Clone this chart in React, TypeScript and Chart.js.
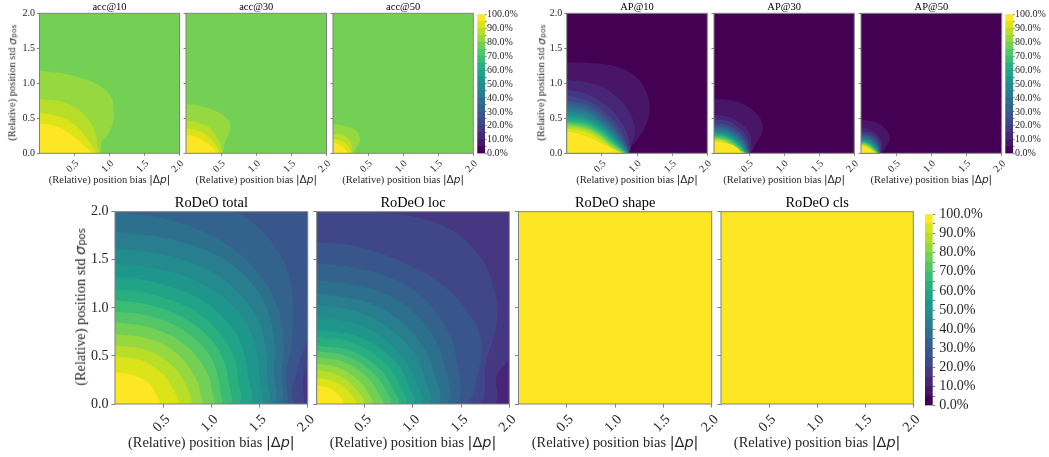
import React, { useEffect, useRef } from "react";
import { Chart, registerables } from "chart.js";

Chart.register(...registerables);

type Curve = [number, number[][]];

const LEVEL_COLORS = ["#440154","#481567","#482677","#453781","#404788","#39568C","#33638D","#2D708E","#287D8E","#238A8D","#1F968B","#20A387","#29AF7F","#3CBB75","#55C667","#73D055","#95D840","#B8DE29","#DCE319","#FDE725"];
const X_TICKS = [0.5, 1.0, 1.5, 2.0];
const Y_TICKS = [0, 0.5, 1.0, 1.5, 2.0];
const CBAR_TICKS = [0,5,10,15,20,25,30,35,40,45,50,55,60,65,70,75,80,85,90,95,100];
const TITLES_ACC = ["acc@10", "acc@30", "acc@50"];
const TITLES_AP = ["AP@10", "AP@30", "AP@50"];
const TITLES_RODEO = ["RoDeO total", "RoDeO loc", "RoDeO shape", "RoDeO cls"];

const ACC10: Curve[] = [
  [16, [[0,1.18],[0.39,1.13],[0.68,1.05],[0.91,0.93],[1.03,0.79],[1.06,0.62],[1.05,0.45],[0.96,0.24],[0.89,0.17],[0.85,0]]],
  [17, [[0,0.776],[0.3,0.74],[0.53,0.64],[0.7,0.48],[0.8,0.29],[0.83,0.1],[0.84,0]]],
  [18, [[0,0.58],[0.3,0.52],[0.51,0.4],[0.68,0.21],[0.77,0.07],[0.81,0]]],
  [19, [[0,0.43],[0.25,0.38],[0.49,0.24],[0.65,0.095],[0.75,0]]],
];
const ACC30: Curve[] = [
  [16, [[0,0.705],[0.18,0.68],[0.39,0.62],[0.56,0.52],[0.63,0.4],[0.6,0.26],[0.55,0.14],[0.5,0]]],
  [17, [[0,0.467],[0.18,0.44],[0.34,0.36],[0.45,0.21],[0.495,0.095],[0.495,0]]],
  [18, [[0,0.357],[0.18,0.32],[0.32,0.24],[0.42,0.12],[0.46,0]]],
  [19, [[0,0.26],[0.15,0.23],[0.295,0.15],[0.39,0.07],[0.425,0]]],
];
const ACC50: Curve[] = [
  [16, [[0,0.414],[0.22,0.38],[0.34,0.31],[0.385,0.19],[0.34,0.095],[0.27,0]]],
  [17, [[0,0.28],[0.15,0.26],[0.25,0.167],[0.28,0.07],[0.27,0]]],
  [18, [[0,0.2],[0.12,0.18],[0.22,0.095],[0.25,0]]],
  [19, [[0,0.15],[0.1,0.12],[0.17,0.057],[0.22,0]]],
];
const AP10: Curve[] = [
  [1, [[0,1.3],[0.33,1.29],[0.66,1.25],[0.95,1.12],[1.11,0.93],[1.18,0.67],[1.14,0.43],[1.0,0.19],[0.9,0.07],[0.86,0]]],
  [2, [[0,1.05],[0.43,0.98],[0.71,0.81],[0.9,0.57],[0.97,0.33],[0.92,0.14],[0.86,0]]],
  [3, [[0,0.91],[0.3,0.84],[0.6,0.65],[0.8,0.4],[0.88,0.2],[0.87,0]]],
  [4, [[0,0.83],[0.3,0.75],[0.55,0.58],[0.75,0.36],[0.85,0.16],[0.865,0]]],
  [5, [[0,0.76],[0.3,0.69],[0.55,0.52],[0.73,0.32],[0.84,0.13],[0.86,0]]],
  [6, [[0,0.72],[0.3,0.65],[0.53,0.49],[0.72,0.29],[0.83,0.12],[0.86,0]]],
  [7, [[0,0.68],[0.3,0.61],[0.52,0.46],[0.71,0.27],[0.82,0.11],[0.86,0]]],
  [8, [[0,0.64],[0.3,0.575],[0.51,0.43],[0.7,0.25],[0.81,0.1],[0.855,0]]],
  [9, [[0,0.6],[0.28,0.54],[0.5,0.41],[0.69,0.23],[0.8,0.1],[0.85,0]]],
  [10, [[0,0.56],[0.28,0.505],[0.5,0.38],[0.68,0.21],[0.79,0.09],[0.845,0]]],
  [11, [[0,0.53],[0.28,0.48],[0.5,0.355],[0.67,0.2],[0.78,0.085],[0.84,0]]],
  [12, [[0,0.5],[0.28,0.45],[0.49,0.335],[0.66,0.185],[0.77,0.08],[0.835,0]]],
  [13, [[0,0.47],[0.27,0.425],[0.48,0.315],[0.65,0.17],[0.76,0.075],[0.825,0]]],
  [14, [[0,0.44],[0.27,0.4],[0.47,0.295],[0.64,0.155],[0.75,0.07],[0.815,0]]],
  [15, [[0,0.42],[0.26,0.38],[0.46,0.28],[0.63,0.145],[0.74,0.06],[0.805,0]]],
  [16, [[0,0.4],[0.26,0.36],[0.45,0.265],[0.62,0.13],[0.73,0.055],[0.795,0]]],
  [17, [[0,0.38],[0.25,0.34],[0.44,0.25],[0.6,0.12],[0.7,0.05],[0.785,0]]],
  [18, [[0,0.35],[0.24,0.315],[0.42,0.23],[0.58,0.115],[0.68,0.05],[0.77,0]]],
  [19, [[0,0.31],[0.17,0.276],[0.4,0.19],[0.55,0.11],[0.64,0.07],[0.75,0]]],
];
const AP30: Curve[] = [
  [1, [[0,0.776],[0.23,0.76],[0.46,0.68],[0.62,0.55],[0.69,0.42],[0.68,0.28],[0.6,0.14],[0.5,0]]],
  [2, [[0,0.55],[0.2,0.52],[0.38,0.43],[0.5,0.3],[0.53,0.16],[0.5,0]]],
  [3, [[0,0.49],[0.2,0.46],[0.35,0.37],[0.46,0.25],[0.5,0.12],[0.495,0]]],
  [4, [[0,0.44],[0.18,0.41],[0.33,0.33],[0.44,0.21],[0.48,0.1],[0.49,0]]],
  [5, [[0,0.41],[0.18,0.38],[0.32,0.3],[0.43,0.19],[0.47,0.09],[0.485,0]]],
  [6, [[0,0.38],[0.17,0.355],[0.31,0.28],[0.42,0.175],[0.465,0.08],[0.48,0]]],
  [7, [[0,0.36],[0.17,0.335],[0.3,0.265],[0.41,0.16],[0.46,0.07],[0.475,0]]],
  [8, [[0,0.34],[0.16,0.315],[0.29,0.25],[0.4,0.15],[0.45,0.065],[0.47,0]]],
  [9, [[0,0.32],[0.16,0.295],[0.28,0.235],[0.39,0.14],[0.44,0.06],[0.465,0]]],
  [10, [[0,0.3],[0.15,0.28],[0.27,0.22],[0.38,0.13],[0.43,0.055],[0.46,0]]],
  [11, [[0,0.285],[0.15,0.265],[0.26,0.21],[0.37,0.125],[0.42,0.05],[0.455,0]]],
  [12, [[0,0.27],[0.14,0.25],[0.25,0.2],[0.36,0.115],[0.41,0.05],[0.45,0]]],
  [13, [[0,0.255],[0.14,0.235],[0.25,0.185],[0.35,0.11],[0.405,0.045],[0.445,0]]],
  [14, [[0,0.24],[0.13,0.22],[0.24,0.175],[0.34,0.1],[0.4,0.04],[0.44,0]]],
  [15, [[0,0.225],[0.13,0.21],[0.23,0.165],[0.33,0.095],[0.39,0.04],[0.435,0]]],
  [16, [[0,0.21],[0.12,0.195],[0.22,0.155],[0.32,0.09],[0.38,0.04],[0.43,0]]],
  [17, [[0,0.2],[0.12,0.185],[0.21,0.145],[0.31,0.085],[0.37,0.035],[0.425,0]]],
  [18, [[0,0.19],[0.11,0.175],[0.2,0.135],[0.3,0.08],[0.36,0.035],[0.415,0]]],
  [19, [[0,0.17],[0.12,0.155],[0.24,0.125],[0.34,0.07],[0.37,0.03],[0.39,0]]],
];
const AP50: Curve[] = [
  [1, [[0,0.476],[0.2,0.45],[0.33,0.37],[0.41,0.23],[0.37,0.12],[0.27,0]]],
  [2, [[0,0.37],[0.12,0.345],[0.22,0.28],[0.29,0.18],[0.3,0.09],[0.27,0]]],
  [3, [[0,0.32],[0.11,0.3],[0.2,0.25],[0.27,0.16],[0.28,0.08],[0.265,0]]],
  [4, [[0,0.29],[0.1,0.27],[0.19,0.225],[0.25,0.14],[0.27,0.07],[0.26,0]]],
  [5, [[0,0.27],[0.09,0.25],[0.18,0.21],[0.24,0.13],[0.26,0.06],[0.258,0]]],
  [6, [[0,0.25],[0.09,0.235],[0.17,0.195],[0.235,0.12],[0.255,0.06],[0.255,0]]],
  [7, [[0,0.235],[0.08,0.22],[0.16,0.18],[0.23,0.11],[0.25,0.05],[0.252,0]]],
  [8, [[0,0.22],[0.08,0.205],[0.155,0.17],[0.22,0.1],[0.245,0.05],[0.25,0]]],
  [9, [[0,0.205],[0.07,0.195],[0.15,0.155],[0.21,0.095],[0.24,0.045],[0.248,0]]],
  [10, [[0,0.195],[0.07,0.18],[0.14,0.15],[0.2,0.09],[0.235,0.04],[0.245,0]]],
  [11, [[0,0.185],[0.07,0.17],[0.135,0.14],[0.195,0.085],[0.23,0.04],[0.242,0]]],
  [12, [[0,0.175],[0.06,0.165],[0.13,0.13],[0.19,0.08],[0.225,0.035],[0.24,0]]],
  [13, [[0,0.165],[0.06,0.155],[0.125,0.125],[0.18,0.075],[0.22,0.03],[0.235,0]]],
  [14, [[0,0.155],[0.06,0.145],[0.12,0.115],[0.175,0.07],[0.215,0.03],[0.23,0]]],
  [15, [[0,0.145],[0.05,0.135],[0.11,0.11],[0.17,0.065],[0.21,0.03],[0.225,0]]],
  [16, [[0,0.135],[0.05,0.125],[0.105,0.1],[0.165,0.06],[0.205,0.025],[0.22,0]]],
  [17, [[0,0.125],[0.05,0.115],[0.1,0.095],[0.16,0.055],[0.2,0.025],[0.215,0]]],
  [18, [[0,0.12],[0.05,0.11],[0.095,0.09],[0.15,0.05],[0.19,0.025],[0.21,0]]],
  [19, [[0,0.11],[0.05,0.1],[0.09,0.08],[0.14,0.045],[0.175,0.02],[0.2,0]]],
];
const TOTAL: Curve[] = [
  [4, [[0,2],[2,2],[2,0.47],[1.95,0.25],[1.93,0]]],
  [5, [[0,2],[1.93,2],[2,1.93],[2,0.75],[1.9,0.4],[1.84,0.15],[1.82,0]]],
  [6, [[0,2],[1.2,2],[1.45,1.87],[1.65,1.65],[1.8,1.35],[1.85,1.0],[1.83,0.6],[1.77,0.3],[1.75,0]]],
  [7, [[0,1.99],[0.5,1.93],[0.9,1.8],[1.2,1.63],[1.45,1.4],[1.65,1.1],[1.74,0.75],[1.73,0.35],[1.68,0]]],
  [8, [[0,1.79],[0.4,1.75],[0.8,1.65],[1.1,1.52],[1.37,1.31],[1.56,1.03],[1.65,0.7],[1.65,0.35],[1.62,0]]],
  [9, [[0,1.616],[0.35,1.58],[0.7,1.5],[1.0,1.38],[1.27,1.17],[1.46,0.92],[1.56,0.62],[1.58,0.3],[1.56,0]]],
  [10, [[0,1.46],[0.3,1.43],[0.6,1.37],[0.9,1.25],[1.16,1.08],[1.36,0.84],[1.47,0.55],[1.5,0.25],[1.5,0]]],
  [11, [[0,1.32],[0.3,1.29],[0.6,1.21],[0.9,1.08],[1.15,0.87],[1.31,0.62],[1.38,0.3],[1.38,0]]],
  [12, [[0,1.194],[0.3,1.16],[0.6,1.07],[0.85,0.95],[1.07,0.76],[1.22,0.52],[1.28,0.25],[1.27,0]]],
  [13, [[0,1.076],[0.25,1.05],[0.5,0.99],[0.75,0.87],[0.98,0.69],[1.12,0.47],[1.18,0.22],[1.18,0]]],
  [14, [[0,0.96],[0.25,0.935],[0.5,0.87],[0.75,0.74],[0.95,0.55],[1.05,0.35],[1.09,0.15],[1.09,0]]],
  [15, [[0,0.85],[0.4,0.785],[0.73,0.61],[0.95,0.336],[1.01,0.12],[1.02,0]]],
  [16, [[0,0.73],[0.36,0.675],[0.64,0.526],[0.83,0.284],[0.89,0.1],[0.896,0]]],
  [17, [[0,0.61],[0.33,0.56],[0.57,0.42],[0.73,0.21],[0.77,0]]],
  [18, [[0,0.5],[0.26,0.457],[0.467,0.336],[0.59,0.18],[0.64,0]]],
  [19, [[0,0.33],[0.19,0.3],[0.35,0.215],[0.43,0.09],[0.457,0]]],
];
const LOC: Curve[] = [
  [3, [[0,2],[1.955,2],[2,1.93],[2,0.5],[1.87,0.3],[1.83,0]]],
  [4, [[0,2],[0.55,2],[1.25,1.88],[1.66,1.58],[1.85,1.17],[1.87,0.85],[1.76,0.44],[1.66,0]]],
  [5, [[0,1.685],[0.45,1.63],[0.97,1.44],[1.3,1.24],[1.55,0.98],[1.7,0.7],[1.68,0.35],[1.52,0]]],
  [6, [[0,1.46],[0.37,1.42],[0.75,1.32],[1.05,1.15],[1.29,0.88],[1.44,0.52],[1.42,0]]],
  [7, [[0,1.29],[0.33,1.25],[0.65,1.17],[0.95,1.0],[1.18,0.75],[1.32,0.42],[1.33,0]]],
  [8, [[0,1.15],[0.3,1.11],[0.6,1.03],[0.87,0.86],[1.08,0.63],[1.22,0.33],[1.24,0]]],
  [9, [[0,1.03],[0.3,0.99],[0.55,0.91],[0.8,0.75],[1.0,0.54],[1.12,0.28],[1.15,0]]],
  [10, [[0,0.9],[0.25,0.87],[0.5,0.8],[0.72,0.66],[0.9,0.47],[1.02,0.25],[1.07,0]]],
  [11, [[0,0.77],[0.44,0.7],[0.8,0.46],[0.96,0.18],[0.99,0]]],
  [12, [[0,0.7],[0.4,0.63],[0.72,0.41],[0.88,0.16],[0.92,0]]],
  [13, [[0,0.61],[0.36,0.55],[0.66,0.36],[0.8,0.14],[0.84,0]]],
  [14, [[0,0.55],[0.33,0.49],[0.6,0.31],[0.73,0.12],[0.76,0]]],
  [15, [[0,0.49],[0.3,0.43],[0.53,0.27],[0.65,0.1],[0.68,0]]],
  [16, [[0,0.42],[0.25,0.37],[0.45,0.23],[0.55,0.09],[0.58,0]]],
  [17, [[0,0.355],[0.2,0.31],[0.38,0.19],[0.48,0]]],
  [18, [[0,0.27],[0.17,0.24],[0.32,0.14],[0.4,0]]],
  [19, [[0,0.19],[0.12,0.17],[0.23,0.09],[0.27,0]]],
];
const SHAPE: Curve[] = [];
const CLS: Curve[] = [];

const SPINE = "#808080";
const TEXT = "#262626";
const SERIF = '"Liberation Serif"';
const MATH = '"DejaVu Sans"';
const W = 1049;
const H = 457;

const frame = {
  id: "frame",
  afterDatasetsDraw(chart: any) {
    const { left, right, top, bottom } = chart.chartArea;
    const c = chart.ctx;
    c.save();
    c.strokeStyle = SPINE;
    c.lineWidth = 1;
    c.strokeRect(left, top, right - left, bottom - top);
    c.restore();
  },
};

function fixBox(size: "width" | "height", v: number) {
  return (s: any) => {
    s[size] = v;
    s.paddingLeft = s.paddingRight = s.paddingTop = s.paddingBottom = 0;
  };
}

type Panel = { title: string; curves: Curve[]; bg: number; x0: number; x1: number; y0: number; y1: number; big: boolean; yLabels: boolean };

function panelConfig(p: Panel): any {
  const tickFont = { family: SERIF, size: p.big ? 14.1 : 10 };
  const tSize = p.big ? 14.4 : 10.5;
  const tCentre = p.big ? 203 : 7.5;
  const tTop = tCentre - tSize / 2;
  const datasets: any[] = [
    { data: [{ x: 0, y: 0 }, { x: 0, y: 2 }, { x: 2, y: 2 }, { x: 2, y: 0 }], level: p.bg, tension: 0 },
    ...p.curves.map(([level, pts]) => ({ data: [...pts.map(([x, y]) => ({ x, y })), { x: 0, y: 0 }], level, tension: 0.4 })),
  ].map((d, i) => ({
    data: d.data,
    order: -i,
    showLine: true,
    fill: "shape",
    backgroundColor: LEVEL_COLORS[d.level],
    borderWidth: 0,
    pointRadius: 0,
    tension: d.tension,
  }));
  return {
    type: "scatter",
    data: { datasets },
    plugins: [frame],
    options: {
      responsive: false,
      animation: false,
      events: [],
      layout: { padding: { left: 0, top: tTop, right: W - p.x1, bottom: H - p.y1 - 40 } },
      plugins: {
        legend: { display: false },
        tooltip: { enabled: false },
        title: {
          display: true,
          text: p.title,
          fullSize: false,
          color: "#000",
          font: { family: SERIF, size: tSize, weight: "normal", lineHeight: 1 },
          padding: { top: 0, bottom: p.y0 - tTop - tSize },
        },
      },
      scales: {
        x: {
          type: "linear",
          min: 0,
          max: 2,
          afterFit: fixBox("height", 40),
          afterBuildTicks: (s: any) => { s.ticks = X_TICKS.map((value) => ({ value })); },
          border: { display: false },
          grid: { drawOnChartArea: false, color: SPINE, tickLength: p.big ? 3.5 : 2.5, tickWidth: 1 },
          ticks: {
            autoSkip: false,
            minRotation: 45,
            maxRotation: 45,
            padding: p.big ? 4 : 2,
            labelOffset: p.big ? 4.6 : 2.6,
            color: TEXT,
            font: tickFont,
            callback: (v: number) => v.toFixed(1),
          },
        },
        y: {
          type: "linear",
          min: 0,
          max: 2,
          afterFit: fixBox("width", p.x0),
          afterBuildTicks: (s: any) => { s.ticks = Y_TICKS.map((value) => ({ value })); },
          border: { display: false },
          grid: { drawOnChartArea: false, color: SPINE, tickLength: p.big ? 3.5 : 2.5, tickWidth: 1 },
          ticks: {
            autoSkip: false,
            padding: p.big ? 3 : 2,
            color: TEXT,
            font: tickFont,
            callback: (v: number) => (p.yLabels ? v.toFixed(1) : ""),
          },
        },
      },
    },
  };
}

type Bar = { x0: number; x1: number; y0: number; y1: number; big: boolean };

function cbarConfig(b: Bar): any {
  return {
    type: "bar",
    data: {
      labels: [""],
      datasets: LEVEL_COLORS.map((c) => ({ data: [5], backgroundColor: c, barPercentage: 1, categoryPercentage: 1, borderWidth: 0 })),
    },
    options: {
      responsive: false,
      animation: false,
      events: [],
      layout: { padding: { left: b.x0, top: b.y0, right: W - b.x1 - 60, bottom: H - b.y1 - 40 } },
      plugins: { legend: { display: false }, tooltip: { enabled: false }, title: { display: false } },
      scales: {
        x: {
          stacked: true,
          offset: true,
          afterFit: fixBox("height", 40),
          border: { display: false },
          grid: { display: false },
          ticks: { display: false },
        },
        y: {
          stacked: true,
          position: "right",
          min: 0,
          max: 100,
          afterFit: fixBox("width", 60),
          afterBuildTicks: (s: any) => { s.ticks = CBAR_TICKS.map((value) => ({ value })); },
          border: { display: false },
          grid: { drawOnChartArea: false, color: SPINE, tickLength: b.big ? 2.5 : 1.5, tickWidth: 1 },
          ticks: {
            autoSkip: false,
            padding: b.big ? 4 : 0.5,
            color: TEXT,
            font: { family: SERIF, size: b.big ? 14.1 : 10 },
            callback: (v: number) => (v % 10 === 0 ? v.toFixed(1) + "%" : ""),
          },
        },
      },
    },
  };
}

const SMALL_Y0 = 13.3;
const SMALL_Y1 = 153.3;
const BIG_Y0 = 211.7;
const BIG_Y1 = 404;

const PANELS: Panel[] = [
  { title: TITLES_ACC[0], curves: ACC10, bg: 15, x0: 39.5, x1: 179.5, y0: SMALL_Y0, y1: SMALL_Y1, big: false, yLabels: true },
  { title: TITLES_ACC[1], curves: ACC30, bg: 15, x0: 186, x1: 326.5, y0: SMALL_Y0, y1: SMALL_Y1, big: false, yLabels: false },
  { title: TITLES_ACC[2], curves: ACC50, bg: 15, x0: 333, x1: 473.3, y0: SMALL_Y0, y1: SMALL_Y1, big: false, yLabels: false },
  { title: TITLES_AP[0], curves: AP10, bg: 0, x0: 566.7, x1: 707.3, y0: SMALL_Y0, y1: SMALL_Y1, big: false, yLabels: true },
  { title: TITLES_AP[1], curves: AP30, bg: 0, x0: 714, x1: 854.3, y0: SMALL_Y0, y1: SMALL_Y1, big: false, yLabels: false },
  { title: TITLES_AP[2], curves: AP50, bg: 0, x0: 861, x1: 1001.7, y0: SMALL_Y0, y1: SMALL_Y1, big: false, yLabels: false },
  { title: TITLES_RODEO[0], curves: TOTAL, bg: 3, x0: 115, x1: 307.7, y0: BIG_Y0, y1: BIG_Y1, big: true, yLabels: true },
  { title: TITLES_RODEO[1], curves: LOC, bg: 2, x0: 316.7, x1: 509.3, y0: BIG_Y0, y1: BIG_Y1, big: true, yLabels: false },
  { title: TITLES_RODEO[2], curves: SHAPE, bg: 19, x0: 518.5, x1: 711.7, y0: BIG_Y0, y1: BIG_Y1, big: true, yLabels: false },
  { title: TITLES_RODEO[3], curves: CLS, bg: 19, x0: 721, x1: 913.3, y0: BIG_Y0, y1: BIG_Y1, big: true, yLabels: false },
];

const BARS: Bar[] = [
  { x0: 477.3, x1: 485, y0: 14.3, y1: 153.7, big: false },
  { x0: 1005.3, x1: 1013, y0: 14.3, y1: 153.7, big: false },
  { x0: 925, x1: 932.7, y0: 214.3, y1: 405.7, big: true },
];

function ChartCanvas({ config }: { config: any }) {
  const ref = useRef<HTMLCanvasElement>(null);
  useEffect(() => {
    const chart = new Chart(ref.current!, config);
    return () => chart.destroy();
  }, [config]);
  return <canvas ref={ref} width={W} height={H} style={{ position: "absolute", left: 0, top: 0, width: W, height: H }} />;
}

function XLabel({ cx, cy, size }: { cx: number; cy: number; size: number }) {
  return (
    <div style={{ position: "absolute", left: cx, top: cy, transform: "translate(-50%,-50%)", whiteSpace: "nowrap", fontFamily: SERIF, fontSize: size, color: TEXT, lineHeight: 1 }}>
      (Relative) position bias <span style={{ fontFamily: MATH }}>|Δ<i>p</i>|</span>
    </div>
  );
}

function YLabel({ cx, cy, size }: { cx: number; cy: number; size: number }) {
  return (
    <div style={{ position: "absolute", left: cx, top: cy, transform: "translate(-50%,-50%) rotate(180deg)", writingMode: "vertical-rl", whiteSpace: "nowrap", fontFamily: SERIF, fontSize: size, color: TEXT, lineHeight: 1 }}>
      (Relative) position std <i style={{ fontFamily: MATH }}>σ</i>
      <span style={{ fontFamily: MATH, fontSize: "70%", position: "relative", left: "-0.25em" }}>pos</span>
    </div>
  );
}

const CONFIGS = [...PANELS.map(panelConfig), ...BARS.map(cbarConfig)];

export default function App() {
  return (
    <div style={{ position: "absolute", left: 0, top: 0, width: W, height: H, background: "#fff", overflow: "hidden" }}>
      {CONFIGS.map((c, i) => <ChartCanvas key={i} config={c} />)}
      {PANELS.map((p, i) => <XLabel key={i} cx={(p.x0 + p.x1) / 2} cy={p.big ? 441.7 : 180} size={p.big ? 14.4 : 10.5} />)}
      <YLabel cx={13} cy={83} size={10.5} />
      <YLabel cx={542} cy={83} size={10.5} />
      <YLabel cx={80} cy={307} size={14.3} />
    </div>
  );
}
